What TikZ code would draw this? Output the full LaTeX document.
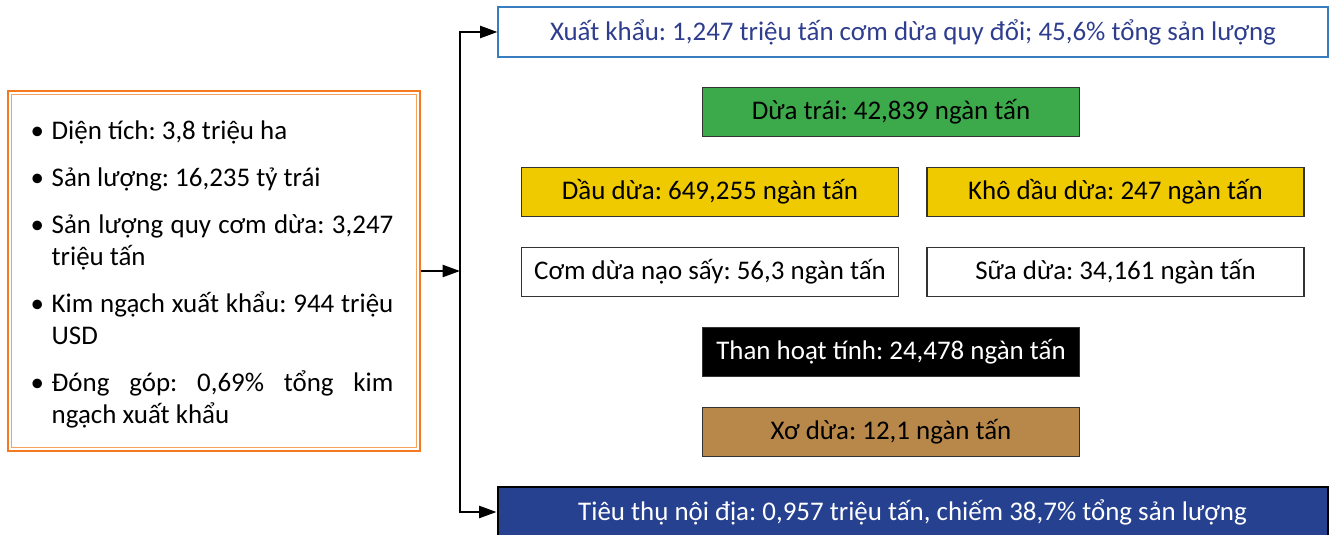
\documentclass[tikz,border=0pt]{standalone}
\usepackage{fontspec}
\setmainfont{Carlito}
\usetikzlibrary{arrows.meta}
\frenchspacing

\definecolor{cam}{HTML}{F47920}
\definecolor{camnhat}{HTML}{F7A35C}
\definecolor{xanhchu}{HTML}{2E3D8E}
\definecolor{xanhvien}{HTML}{3A7CC0}
\definecolor{xanhla}{HTML}{3CAA4A}
\definecolor{vang}{HTML}{F0CA00}
\definecolor{nau}{HTML}{B8874A}
\definecolor{xanhdam}{HTML}{264190}

\newcommand{\infoitem}[1]{\par\hangindent=15.75pt\hangafter=1\noindent\makebox[15.75pt][l]{\textbullet}#1}

\tikzset{
	sp/.style={draw=black!80, line width=0.8pt, minimum width=282.75pt, minimum height=36.75pt,
		inner sep=0pt, font=\fontsize{20.2}{22}\selectfont},
	dai/.style={sp, minimum width=622.5pt, minimum height=37.5pt},
	muiten/.style={line width=1.7pt, -{Triangle[length=13pt,width=9pt]}}
}

\begin{document}
\begin{tikzpicture}[x=0.75pt, y=-0.75pt]
	\useasboundingbox (0,0) rectangle (1332,535);

	% khung thong tin
	\draw (214,271) node[draw=cam, line width=2.2pt, minimum width=309pt, minimum height=270pt] (info) {};
	\draw[camnhat, line width=1pt] ([shift={(5,5)}]info.north west) rectangle ([shift={(-5,-5)}]info.south east);
	\draw (212,260) node[text width=272pt, align=justify, inner sep=0pt, font=\fontsize{20.2}{24}\selectfont] (infotext)
		{\setlength{\parskip}{11.25pt}%
		\infoitem{Diện tích: 3,8 triệu ha}
		\infoitem{Sản lượng: 16,235 tỷ trái}
		\infoitem{Sản lượng quy cơm dừa: 3,247 triệu tấn}
		\infoitem{Kim ngạch xuất khẩu: 944 triệu USD}
		\infoitem{Đóng góp: 0,69\% tổng kim ngạch xuất khẩu}\par};

	% cac san pham
	\draw (913,32)    node[dai, draw=xanhvien, text=xanhchu] (xk) {Xuất khẩu: 1,247 triệu tấn cơm dừa quy đổi; 45,6\% tổng sản lượng};
	\draw (891,112)   node[sp, fill=xanhla] (trai) {Dừa trái: 42,839 ngàn tấn};
	\draw (710,192)   node[sp, fill=vang] (dau) {Dầu dừa: 649,255 ngàn tấn};
	\draw (1115.5,192) node[sp, fill=vang] (kho) {Khô dầu dừa: 247 ngàn tấn};
	\draw (710,272)   node[sp, fill=white] (com) {Cơm dừa nạo sấy: 56,3 ngàn tấn};
	\draw (1115.5,272) node[sp, fill=white] (sua) {Sữa dừa: 34,161 ngàn tấn};
	\draw (891,352)   node[sp, fill=black, text=white] (than) {Than hoạt tính: 24,478 ngàn tấn};
	\draw (891,432)   node[sp, fill=nau] (xo) {Xơ dừa: 12,1 ngàn tấn};
	\draw (912.5,512) node[dai, draw=black, line width=1.5pt, fill=xanhdam, text=white] (noidia) {Tiêu thụ nội địa: 0,957 triệu tấn, chiếm 38,7\% tổng sản lượng};

	% mui ten
	\coordinate (nhanh) at (460,271);
	\draw[muiten] (info.east) -- (nhanh);
	\draw[muiten] (nhanh) |- (xk.west);
	\draw[muiten] (nhanh) |- (noidia.west);
\end{tikzpicture}
\end{document}
